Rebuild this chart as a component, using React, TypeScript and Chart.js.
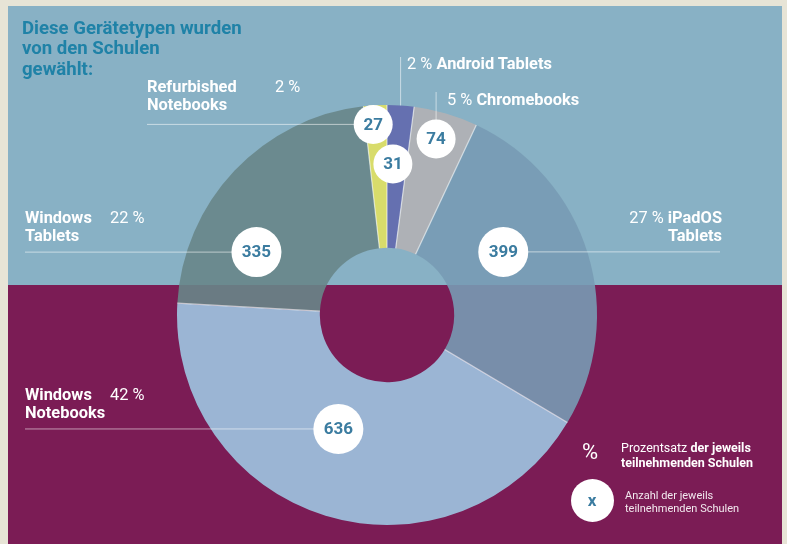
import React, { useEffect, useRef } from 'react';
import { Chart, registerables } from 'chart.js';

Chart.register(...registerables);

// ---- data ----
const categories = ['Android Tablets', 'Chromebooks', 'iPadOS Tablets', 'Windows Notebooks', 'Windows Tablets', 'Refurbished Notebooks'];
const schoolCounts = [31, 74, 399, 636, 335, 27];
const percentLabels = ['2 %', '5 %', '27 %', '42 %', '22 %', '2 %'];
const sliceColors = [
  'rgba(98,105,173,0.9)',
  'rgba(179,177,180,0.9)',
  'rgba(120,155,180,0.9)',
  'rgba(159,198,226,0.9)',
  'rgba(104,134,136,0.9)',
  'rgba(225,225,96,0.9)',
];

// ---- bubble layout (position inside each slice) ----
const bubbleFrac = [0.3, 0.46, 0.38, 0.54, 0.28, 0.36];
const bubbleRadial = [0.72, 0.87, 0.63, 0.59, 0.69, 0.91];
const bubbleSize = [19.5, 19.5, 25, 25, 25, 19.5];
const leaders = [
  { mode: 'edge', to: 57 },
  { mode: 'vertical', to: 92 },
  { mode: 'horizontal', to: 720 },
  { mode: 'horizontal', to: 25 },
  { mode: 'horizontal', to: 25 },
  { mode: 'horizontal', to: 147 },
];

const NUM_COLOR = '#3B7CA0';

const bubblePlugin = {
  id: 'bubbles',
  afterDatasetsDraw(chart: any) {
    const ctx = chart.ctx;
    const meta = chart.getDatasetMeta(0);
    const pts = meta.data.map((el: any, i: number) => {
      const p = el.getProps(['x', 'y', 'startAngle', 'endAngle', 'innerRadius', 'outerRadius'], true);
      const a = p.startAngle + bubbleFrac[i] * (p.endAngle - p.startAngle);
      const r = bubbleRadial[i] * p.outerRadius;
      return { ...p, bx: p.x + Math.cos(a) * r, by: p.y + Math.sin(a) * r, mid: (p.startAngle + p.endAngle) / 2 };
    });
    ctx.save();
    // separators between slices
    ctx.strokeStyle = 'rgba(255,255,255,0.6)';
    ctx.lineWidth = 1.2;
    pts.forEach((p: any) => {
      ctx.beginPath();
      ctx.moveTo(p.x + Math.cos(p.startAngle) * p.innerRadius, p.y + Math.sin(p.startAngle) * p.innerRadius);
      ctx.lineTo(p.x + Math.cos(p.startAngle) * p.outerRadius, p.y + Math.sin(p.startAngle) * p.outerRadius);
      ctx.stroke();
    });
    // leader lines
    ctx.strokeStyle = 'rgba(255,255,255,0.55)';
    ctx.lineWidth = 1;
    pts.forEach((p: any, i: number) => {
      const L = leaders[i];
      ctx.beginPath();
      if (L.mode === 'edge') {
        const ex = p.x + Math.cos(p.mid) * p.outerRadius;
        const ey = p.y + Math.sin(p.mid) * p.outerRadius;
        ctx.moveTo(ex, ey);
        ctx.lineTo(ex, L.to);
      } else if (L.mode === 'vertical') {
        ctx.moveTo(p.bx, p.by);
        ctx.lineTo(p.bx, L.to);
      } else {
        ctx.moveTo(p.bx, p.by);
        ctx.lineTo(L.to, p.by);
      }
      ctx.stroke();
    });
    // bubbles with counts
    pts.forEach((p: any, i: number) => {
      ctx.beginPath();
      ctx.arc(p.bx, p.by, bubbleSize[i], 0, Math.PI * 2);
      ctx.fillStyle = '#ffffff';
      ctx.fill();
      ctx.fillStyle = NUM_COLOR;
      ctx.font = 'bold 17px Roboto';
      ctx.textAlign = 'center';
      ctx.textBaseline = 'middle';
      ctx.fillText(String(chart.data.datasets[0].data[i]), p.bx, p.by + 1);
    });
    ctx.restore();
  },
};

const FONT = 'Roboto, "Noto Sans", sans-serif';

const labelStyle: React.CSSProperties = {
  position: 'absolute',
  color: '#ffffff',
  fontFamily: FONT,
  fontSize: 16.4,
  lineHeight: '18px',
  whiteSpace: 'nowrap',
};

export default function App() {
  const canvasRef = useRef<HTMLCanvasElement | null>(null);

  useEffect(() => {
    if (!canvasRef.current) return;
    const chart = new Chart(canvasRef.current, {
      type: 'doughnut',
      data: {
        labels: categories,
        datasets: [{ data: schoolCounts, backgroundColor: sliceColors, borderWidth: 0 }],
      },
      options: {
        responsive: false,
        animation: false,
        cutout: '32%',
        rotation: 0,
        events: [],
        layout: { padding: { left: 177, right: 190, top: 105, bottom: 19 } },
        plugins: { legend: { display: false }, tooltip: { enabled: false } },
      },
      plugins: [bubblePlugin],
    } as any);
    return () => chart.destroy();
  }, []);

  const bold = { fontWeight: 700 } as React.CSSProperties;
  const light = { fontWeight: 400 } as React.CSSProperties;

  return (
    <div style={{ position: 'fixed', left: 0, top: 0, width: 787, height: 544, background: '#E7E4D6', overflow: 'hidden' }}>
      <div style={{ position: 'absolute', left: 8, top: 6, width: 774, height: 279, background: '#88B1C5' }} />
      <div style={{ position: 'absolute', left: 8, top: 285, width: 774, height: 259, background: '#7B1C55' }} />
      <canvas ref={canvasRef} width={787} height={544} style={{ position: 'absolute', left: 0, top: 0, width: 787, height: 544, display: 'block' }} />

      {/* title */}
      <div style={{ position: 'absolute', left: 22, top: 17.5, color: '#1F82A7', fontFamily: FONT, fontWeight: 700, fontSize: 18.6, lineHeight: '20.5px', whiteSpace: 'nowrap' }}>
        Diese Gerätetypen wurden<br />von den Schulen<br />gewählt:
      </div>

      {/* Refurbished Notebooks */}
      <div style={{ ...labelStyle, ...bold, left: 147, top: 78 }}>Refurbished<br />Notebooks</div>
      <div style={{ ...labelStyle, ...light, left: 275, top: 78 }}>{percentLabels[5]}</div>

      {/* Android Tablets */}
      <div style={{ ...labelStyle, left: 407, top: 55 }}>
        <span style={light}>{percentLabels[0]}</span> <span style={bold}>{categories[0]}</span>
      </div>

      {/* Chromebooks */}
      <div style={{ ...labelStyle, left: 447, top: 91 }}>
        <span style={light}>{percentLabels[1]}</span> <span style={bold}>{categories[1]}</span>
      </div>

      {/* iPadOS Tablets */}
      <div style={{ ...labelStyle, right: 65, top: 209, textAlign: 'right' }}>
        <span style={light}>{percentLabels[2]}</span> <span style={bold}>iPadOS</span>
        <br />
        <span style={bold}>Tablets</span>
      </div>

      {/* Windows Tablets */}
      <div style={{ ...labelStyle, ...bold, left: 25, top: 209 }}>Windows<br />Tablets</div>
      <div style={{ ...labelStyle, ...light, left: 110, top: 209 }}>{percentLabels[4]}</div>

      {/* Windows Notebooks */}
      <div style={{ ...labelStyle, ...bold, left: 25, top: 386 }}>Windows<br />Notebooks</div>
      <div style={{ ...labelStyle, ...light, left: 110, top: 386 }}>{percentLabels[3]}</div>

      {/* legend */}
      <div style={{ position: 'absolute', left: 582, top: 440, color: '#fff', fontFamily: FONT, fontSize: 22, lineHeight: '24px' }}>%</div>
      <div style={{ position: 'absolute', left: 621, top: 439.5, color: '#fff', fontFamily: FONT, fontSize: 12.5, lineHeight: '15.6px', whiteSpace: 'nowrap' }}>
        <span style={light}>Prozentsatz </span><span style={bold}>der jeweils</span>
        <br />
        <span style={bold}>teilnehmenden Schulen</span>
      </div>
      <div style={{ position: 'absolute', left: 570.5, top: 478.5, width: 43, height: 43, borderRadius: '50%', background: '#fff', display: 'flex', alignItems: 'center', justifyContent: 'center', color: NUM_COLOR, fontFamily: FONT, fontWeight: 700, fontSize: 17 }}>x</div>
      <div style={{ position: 'absolute', left: 625, top: 489, color: 'rgba(255,255,255,0.9)', fontFamily: FONT, fontSize: 11, lineHeight: '13.3px', whiteSpace: 'nowrap' }}>
        Anzahl der jeweils<br />teilnehmenden Schulen
      </div>
    </div>
  );
}
